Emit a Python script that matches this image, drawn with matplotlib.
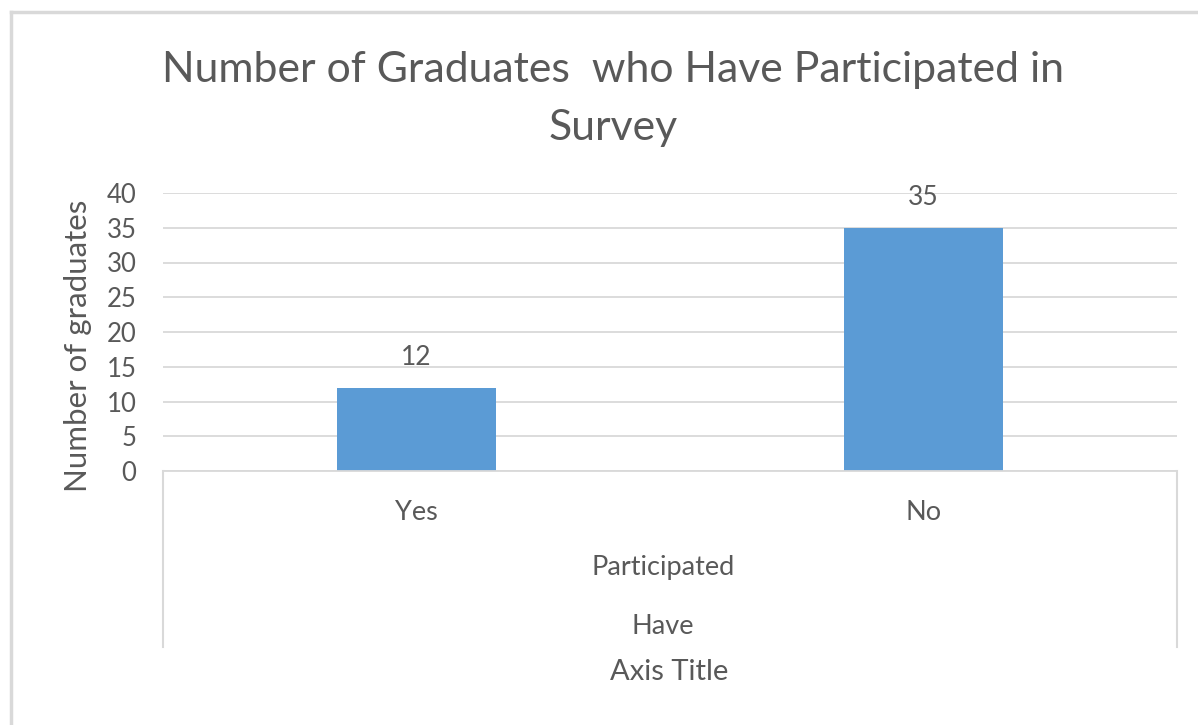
import matplotlib
matplotlib.use("Agg")
import matplotlib.pyplot as plt
from matplotlib.lines import Line2D

# Data
categories = ["Yes", "No"]
graduates = [12, 35]
group_labels = ["Participated", "Have"]
title_lines = ["Number of Graduates  who Have Participated in", "Survey"]
y_label = "Number of graduates"
x_title = "Axis Title"
y_ticks = [0, 5, 10, 15, 20, 25, 30, 35, 40]

W, H = 1198, 725
DPI = 100
TEXT = "#595959"
GRID = "#D9D9D9"
BAR = "#5B9BD5"
FONT = "Lato"

plt.rcParams["font.family"] = [FONT, "DejaVu Sans"]

fig = plt.figure(figsize=(W / DPI, H / DPI), dpi=DPI)
fig.patch.set_facecolor("white")

def fx(px):
    return px / W

def fy(py):
    return 1 - py / H

left, right, top, bottom = 163, 1177, 193, 471
ax = fig.add_axes([fx(left), fy(bottom), fx(right) - fx(left), fy(top) - fy(bottom)])

x = list(range(len(categories)))
bars = ax.bar(x, graduates, width=0.313, color=BAR, zorder=3)
for rect, v in zip(bars, graduates):
    ax.annotate(str(v), (rect.get_x() + rect.get_width() / 2, v),
                xytext=(0, 16.5), textcoords="offset points",
                ha="center", va="baseline", fontsize=19, color=TEXT)

ax.set_xlim(-0.5, len(categories) - 0.5)
ax.set_ylim(0, 40)
ax.set_yticks(y_ticks)
ax.set_yticklabels([str(t) for t in y_ticks], fontsize=18.5, color=TEXT)
ax.tick_params(axis="y", length=0, pad=19)
ax.set_xticks(x)
ax.set_xticklabels(categories, fontsize=19.5, color=TEXT)
ax.tick_params(axis="x", length=0, pad=21)

ax.grid(axis="y", color=GRID, linewidth=1.3, zorder=0)
for s in ["top", "right", "left"]:
    ax.spines[s].set_visible(False)
ax.spines["bottom"].set_color(GRID)
ax.spines["bottom"].set_linewidth(1.3)
ax.spines["bottom"].set_zorder(4)

# multi-level category axis boundaries
for xb in (-0.5, len(categories) - 0.5):
    ax.plot([xb, xb], [0, -0.633], transform=ax.get_xaxis_transform(),
            color=GRID, linewidth=1.5, clip_on=False)

# group labels under the categories
for lbl, py in zip(group_labels, [567, 627]):
    fig.text(fx(663), fy(py), lbl, ha="center", va="center", fontsize=19.5, color=TEXT)

fig.text(fx(669), fy(672), x_title, ha="center", va="center", fontsize=21, color=TEXT)
fig.text(fx(78), fy(346), y_label, ha="center", va="center", rotation=90,
         fontsize=22.5, color=TEXT)

# two-line chart title, placed by baseline
for line, base in zip(title_lines, [82, 140]):
    fig.text(fx(613), fy(base), line, ha="center", va="baseline", fontsize=30.8,
             color=TEXT)

# chart area frame
fig.add_artist(Line2D([fx(11), fx(11)], [fy(12), 0], color=GRID, linewidth=2.5))
fig.add_artist(Line2D([fx(11), 1], [fy(12), fy(12)], color=GRID, linewidth=2.5))

fig.savefig("out.png", dpi=DPI, facecolor="white")
